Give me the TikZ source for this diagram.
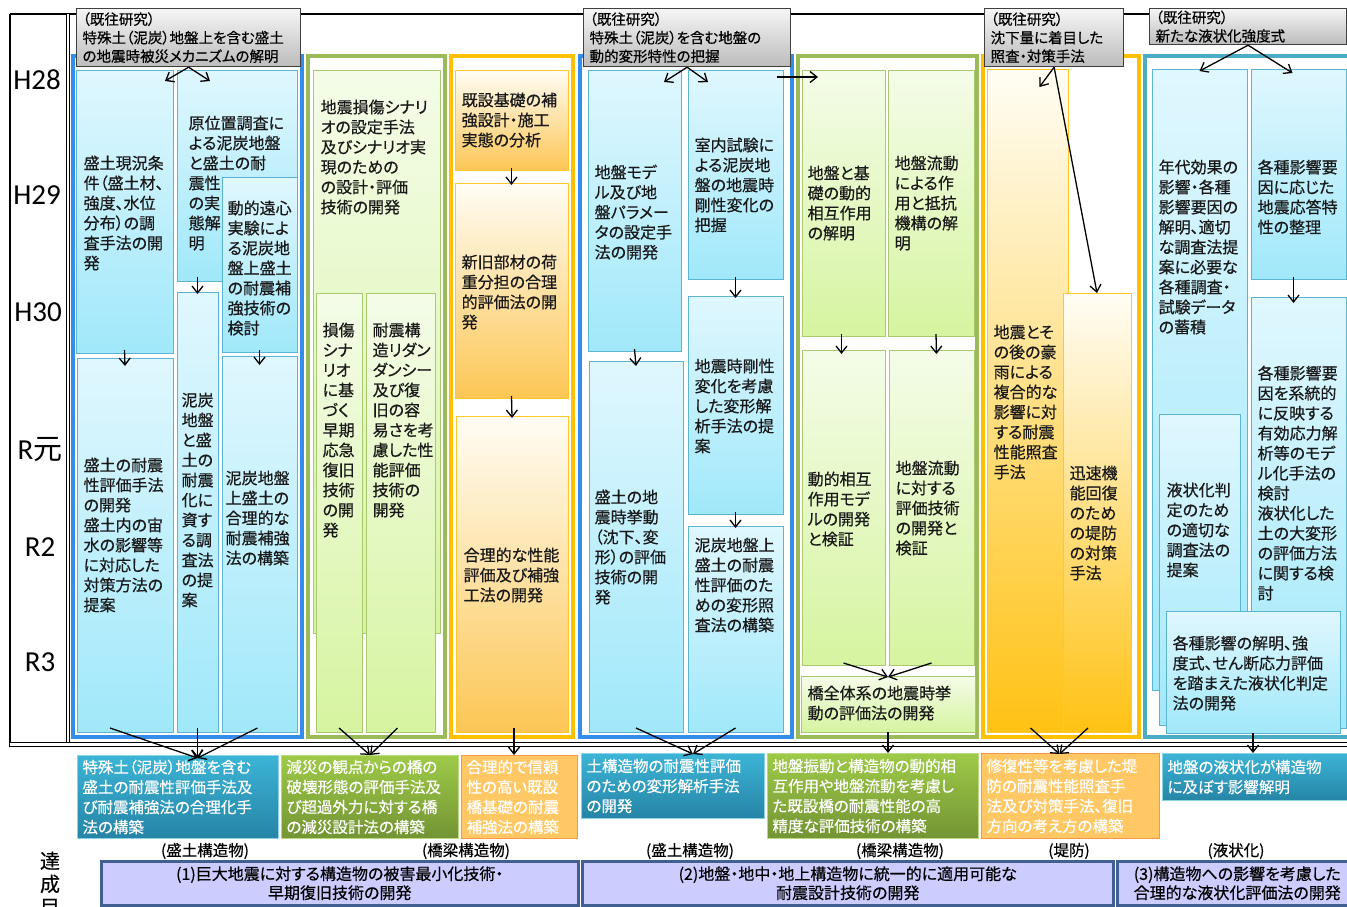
\documentclass[tikz,border=0pt]{standalone}
\usepackage{fontspec}
\setmainfont{Noto Sans CJK JP}[RawFeature=+palt,FakeBold=0.5]
\newfontfamily\yrfont{Carlito}
\usetikzlibrary{arrows.meta,calc,fit}

\definecolor{frBlue}{RGB}{52,140,235}
\definecolor{frGreen}{RGB}{155,187,89}
\definecolor{frGold}{RGB}{255,192,0}
\definecolor{frTeal}{RGB}{75,172,198}
\definecolor{cyTop}{RGB}{224,247,254}
\definecolor{cyBot}{RGB}{160,232,250}
\definecolor{cyLine}{RGB}{90,180,210}
\definecolor{grTop}{RGB}{244,252,232}
\definecolor{grBot}{RGB}{214,244,160}
\definecolor{grLine}{RGB}{170,200,110}
\definecolor{orTop}{RGB}{255,253,245}
\definecolor{orBot}{RGB}{252,198,85}
\definecolor{orDeep}{RGB}{255,194,20}
\definecolor{orLine}{RGB}{255,200,40}
\definecolor{hdTop}{RGB}{245,245,245}
\definecolor{hdBot}{RGB}{188,188,188}
\definecolor{tlTop}{RGB}{60,180,214}
\definecolor{tlBot}{RGB}{38,132,166}
\definecolor{gnTop}{RGB}{158,202,72}
\definecolor{gnBot}{RGB}{115,148,52}
\definecolor{ogFill}{RGB}{255,200,100}
\definecolor{ogLine}{RGB}{247,150,70}
\definecolor{goalFill}{RGB}{204,204,255}
\definecolor{goalLine}{RGB}{65,95,145}

\tikzset{
  frame/.style={line width=3.5pt},
  box/.style={inner sep=0pt, outer sep=0pt, line width=1pt},
  cybox/.style={box, draw=cyLine, top color=cyTop, bottom color=cyBot},
  grbox/.style={box, draw=grLine, top color=grTop, bottom color=grBot},
  orbox/.style={box, draw=orLine, top color=orTop, bottom color=orBot},
  txt/.style={anchor=north west, align=left, inner sep=0pt, text=black!90,
    font=\fontsize{16}{20}\selectfont},
  hdr/.style={anchor=north west, draw=black!75, line width=1.2pt,
    top color=hdTop, bottom color=hdBot, inner xsep=6pt, inner ysep=0pt,
    align=left, font=\fontsize{14.5}{18.5}\selectfont},
  outbox/.style={anchor=north west, align=left, text=white, inner xsep=5pt,
    inner ysep=3pt, line width=1pt, font=\fontsize{15.5}{20}\selectfont},
  tlout/.style={outbox, draw=tlTop!60, top color=tlTop, bottom color=tlBot},
  gnout/.style={outbox, draw=gnTop!70, top color=gnTop, bottom color=gnBot},
  ogout/.style={outbox, draw=ogLine, fill=ogFill},
  goal/.style={anchor=north west, draw=goalLine, fill=goalFill, line width=2.5pt,
    align=center, font=\fontsize{16}{19}\selectfont},
  lbl/.style={inner sep=0pt, font=\fontsize{15.5}{18}\selectfont},
  yr/.style={inner sep=0pt, font=\yrfont\fontsize{29}{30}\selectfont},
}

\begin{document}
\begin{tikzpicture}[x=1pt,y=-1pt,>={Straight Barb[length=7pt,width=11pt]},line width=1.3pt]
\useasboundingbox[fill=white] (0,0) rectangle (1347,906);

% table lines
\draw[line width=1.5pt] (10,14) -- (1347,14);
\draw[line width=1.5pt] (10,14) -- (10,747);
\draw[double,double distance=1.5pt,line width=0.8pt] (68,14) -- (68,747);
\draw[double,double distance=3pt,line width=0.9pt] (10,744.5) -- (1347,744.5);

% years
\node[yr] (y28) at (37,80) {H28};
\node[yr] (y29) at (37,195) {H29};
\node[yr] (y30) at (38,312) {H30};
\node[yr] (y31) at (40,450) {R{\fontspec{Noto Sans CJK JP}\fontsize{29}{30}\selectfont 元}};
\node[yr] (y32) at (40,547) {R2};
\node[yr] (y33) at (40,662) {R3};

% group frames
\draw[frame,draw=frBlue] (73,56) rectangle (302,737);
\draw[frame,draw=frGreen] (308,56) rectangle (445,737);
\draw[frame,draw=frGold] (451,56) rectangle (573,737);
\draw[frame,draw=frBlue] (580,56) rectangle (792,737);
\draw[frame,draw=frGreen] (798,56) rectangle (977,737);
\draw[frame,draw=frGold] (983,56) rectangle (1139,737);
\draw[frame,draw=frTeal] (1145,56) rectangle (1355,737);

% embankment (peat)
\node[cybox, fit={(76,70) (173,353)}] (A1) {};
\node[cybox, fit={(177,70) (297,281)}] (A2) {};
\node[cybox, fit={(222,177) (297,352)}] (A3) {};
\node[cybox, fit={(77,358) (173,732)}] (A4) {};
\node[cybox, fit={(177,292) (218,732)}] (A5) {};
\node[cybox, fit={(222,356) (297,732)}] (A6) {};
\node[txt] (A1t) at (83,155) {盛土現況条\\件（盛土材、\\強度、水位\\分布）の調\\査手法の開\\発};
\node[txt] (A2t) at (188,115) {原位置調査に\\よる泥炭地盤\\と盛土の耐\\震性\\の実\\態解\\明};
\node[txt] (A3t) at (227,200) {動的遠心\\実験によ\\る泥炭地\\盤上盛土\\の耐震補\\強技術の\\検討};
\node[txt] (A4t) at (83,457) {盛土の耐震\\性評価手法\\の開発\\盛土内の宙\\水の影響等\\に対応した\\対策方法の\\提案};
\node[txt] (A5t) at (181,392) {泥炭\\地盤\\と盛\\土の\\耐震\\化に\\資す\\る調\\査法\\の提\\案};
\node[txt] (A6t) at (225,470) {泥炭地盤\\上盛土の\\合理的な\\耐震補強\\法の構築};

% bridges
\node[grbox, fit={(313,70) (440,633)}] (B1) {};
\node[grbox, fit={(316,293) (362,732)}] (B2) {};
\node[grbox, fit={(366,293) (435,732)}] (B3) {};
\node[txt] (B1t) at (320,99) {地震損傷シナリ\\オの設定手法\\及びシナリオ実\\現のための\\の設計・評価\\技術の開発};
\node[txt] (B2t) at (322,322) {損傷\\シナ\\リオ\\に基\\づく\\早期\\応急\\復旧\\技術\\の開\\発};
\node[txt] (B3t) at (372,322) {耐震構\\造リダン\\ダンシー\\及び復\\旧の容\\易さを考\\慮した性\\能評価\\技術の\\開発};

% foundations
\node[orbox, fit={(455,70) (568,170)}] (C1) {};
\node[orbox, fit={(455,183) (568,398)}] (C2) {};
\node[orbox, fit={(456,416) (568,732)}] (C3) {};
\node[txt] (C1t) at (461,92) {既設基礎の補\\強設計・施工\\実態の分析};
\node[txt] (C2t) at (461,254) {新旧部材の荷\\重分担の合理\\的評価法の開\\発};
\node[txt] (C3t) at (463,547) {合理的な性能\\評価及び補強\\工法の開発};

% earth structures
\node[cybox, fit={(588,70) (681,351)}] (D1) {};
\node[cybox, fit={(688,70) (783,279)}] (D2) {};
\node[cybox, fit={(688,296) (783,514)}] (D3) {};
\node[cybox, fit={(589,361) (683,732)}] (D4) {};
\node[cybox, fit={(688,526) (783,732)}] (D5) {};
\node[txt] (D1t) at (594,164) {地盤モデ\\ル及び地\\盤パラメー\\タの設定手\\法の開発};
\node[txt] (D2t) at (694,137) {室内試験に\\よる泥炭地\\盤の地震時\\剛性変化の\\把握};
\node[txt] (D3t) at (694,358) {地震時剛性\\変化を考慮\\した変形解\\析手法の提\\案};
\node[txt] (D4t) at (594,489) {盛土の地\\震時挙動\\（沈下、変\\形）の評価\\技術の開\\発};
\node[txt] (D5t) at (694,537) {泥炭地盤上\\盛土の耐震\\性評価のた\\めの変形照\\査法の構築};

% bridge and ground
\node[grbox, fit={(802,70) (885,336)}] (E1) {};
\node[grbox, fit={(888,70) (974,336)}] (E2) {};
\node[grbox, fit={(802,350) (885,665)}] (E3) {};
\node[grbox, fit={(889,350) (974,665)}] (E4) {};
\node[grbox, fit={(801,676) (975,732)}] (E5) {};
\node[txt] (E1t) at (807,165) {地盤と基\\礎の動的\\相互作用\\の解明};
\node[txt] (E2t) at (894,155) {地盤流動\\による作\\用と抵抗\\機構の解\\明};
\node[txt] (E3t) at (807,471) {動的相互\\作用モデ\\ルの開発\\と検証};
\node[txt] (E4t) at (895,460) {地盤流動\\に対する\\評価技術\\の開発と\\検証};
\node[txt] (E5t) at (807,685) {橋全体系の地震時挙\\動の評価法の開発};

% levees
\node[box, draw=orLine, top color=orTop, bottom color=orDeep, fit={(987,69) (1068,732)}] (F1) {};
\node[box, draw=orLine, top color=orTop, bottom color=orDeep, fit={(1063,293) (1131,732)}] (F2) {};
\node[txt] (F1t) at (993,324) {地震とそ\\の後の豪\\雨による\\複合的な\\影響に対\\する耐震\\性能照査\\手法};
\node[txt] (F2t) at (1069,465) {迅速機\\能回復\\のため\\の堤防\\の対策\\手法};

% liquefaction
\node[cybox, fit={(1152,69) (1247,690)}] (L1) {};
\node[cybox, fit={(1159,414) (1240,725)}] (L3) {};
\node[cybox, fit={(1251,69) (1346,279)}] (L2) {};
\node[cybox, fit={(1251,297) (1346,728)}] (L4) {};
\node[cybox, fit={(1166,611) (1340,733)}] (L5) {};
\node[txt] (L1t) at (1158,159) {年代効果の\\影響・各種\\影響要因の\\解明、適切\\な調査法提\\案に必要な\\各種調査・\\試験データ\\の蓄積};
\node[txt] (L2t) at (1257,159) {各種影響要\\因に応じた\\地震応答特\\性の整理};
\node[txt] (L4t) at (1257,365) {各種影響要\\因を系統的\\に反映する\\有効応力解\\析等のモデ\\ル化手法の\\検討\\液状化した\\土の大変形\\の評価方法\\に関する検\\討};
\node[txt] (L3t) at (1166,482) {液状化判\\定のため\\の適切な\\調査法の\\提案};
\node[txt] (L5t) at (1172,635) {各種影響の解明、強\\度式、せん断応力評価\\を踏まえた液状化判定\\法の開発};

% previous research
\node[hdr, minimum width=224pt, minimum height=58pt, text width=212pt] (hd1) at (76,8)
  {（既往研究）\\特殊土（泥炭）地盤上を含む盛土\\の地震時被災メカニズムの解明};
\node[hdr, minimum width=207pt, minimum height=58pt, text width=195pt] (hd2) at (583,8)
  {（既往研究）\\特殊土（泥炭）を含む地盤の\\動的変形特性の把握};
\node[hdr, minimum width=139pt, minimum height=58pt, text width=127pt] (hd3) at (984,8)
  {（既往研究）\\沈下量に着目した\\照査・対策手法};
\node[hdr, minimum width=197pt, minimum height=36pt, text width=185pt] (hd4) at (1149,8)
  {（既往研究）\\新たな液状化強度式};

% outcomes
\node[tlout, minimum width=201pt, minimum height=83pt, text width=191pt] (O1) at (77,755)
  {特殊土（泥炭）地盤を含む\\盛土の耐震性評価手法及\\び耐震補強法の合理化手\\法の構築};
\node[gnout, minimum width=177pt, minimum height=83pt, text width=167pt] (O2) at (281,755)
  {減災の観点からの橋の\\破壊形態の評価手法及\\び超過外力に対する橋\\の減災設計法の構築};
\node[ogout, minimum width=116pt, minimum height=83pt, text width=106pt] (O3) at (461,755)
  {合理的で信頼\\性の高い既設\\橋基礎の耐震\\補強法の構築};
\node[tlout, minimum width=183pt, minimum height=65pt, text width=173pt] (O4) at (581,753)
  {土構造物の耐震性評価\\のための変形解析手法\\の開発};
\node[gnout, minimum width=211pt, minimum height=85pt, text width=201pt] (O5) at (767,753)
  {地盤振動と構造物の動的相\\互作用や地盤流動を考慮し\\た既設橋の耐震性能の高\\精度な評価技術の構築};
\node[ogout, minimum width=178pt, minimum height=85pt, text width=168pt] (O6) at (981,753)
  {修復性等を考慮した堤\\防の耐震性能照査手\\法及び対策手法、復旧\\方向の考え方の構築};
\node[tlout, minimum width=190pt, minimum height=47pt, text width=180pt] (O7) at (1162,753)
  {地盤の液状化が構造物\\に及ぼす影響解明};

% targets
\node[lbl] (k1) at (205,851) {(盛土構造物)};
\node[lbl] (k2) at (466,851) {(橋梁構造物)};
\node[lbl] (k3) at (690,851) {(盛土構造物)};
\node[lbl] (k4) at (900,851) {(橋梁構造物)};
\node[lbl] (k5) at (1069,851) {(堤防)};
\node[lbl] (k6) at (1236,851) {(液状化)};
\node[anchor=north, align=center, inner sep=0pt, font=\fontsize{20}{23}\selectfont] (goalhd) at (50,851) {達\\成\\目};
\node[goal, minimum width=477pt, minimum height=44pt] (G1) at (100,860)
  {(1)巨大地震に対する構造物の被害最小化技術・\\早期復旧技術の開発};
\node[goal, minimum width=531pt, minimum height=44pt] (G2) at (581,860)
  {(2)地盤・地中・地上構造物に統一的に適用可能な\\耐震設計技術の開発};
\node[goal, minimum width=240pt, minimum height=44pt] (G3) at (1116,860)
  {(3)構造物への影響を考慮した\\合理的な液状化評価法の開発};

% arrows from previous research
\draw[->] (hd1.south) -- ($(A1.north east)+(-8,11)$);
\draw[->] (hd1.south) -- ($(A2.north west)+(33,11)$);
\draw[->] (hd2.south) -- ($(D1.north east)+(-17,12)$);
\draw[->] (hd2.south) -- ($(D2.north west)+(20,12)$);
\draw[->] (hd3.south) -- ($(F1.north)+(12,18)$);
\draw[->] (hd3.south) -- (F2.north);
\draw[->] (hd4.south) -- ($(L1.north)+(0,2)$);
\draw[->] (hd4.south) -- ($(L2.north)+(-6,4)$);
\draw[->] ($(D2.north east)+(-6,7)$) -- ($(E1.north west)+(16,7)$);

% arrows inside groups
\draw[->] ($(A1.south)+(0,-3)$) -- ($(A4.north)+(0,8)$);
\draw[->] ($(A2.south -| A5.north)+(0,-4)$) -- ($(A5.north)+(0,2)$);
\draw[->] ($(A3.south)+(0,-2)$) -- ($(A6.north)+(0,9)$);
\draw[->] ($(C1.south)+(0,-2)$) -- ($(C2.north)+(0,2)$);
\draw[->] ($(C2.south)+(0,-2)$) -- ($(C3.north)+(0,2)$);
\draw[->] ($(D1.south)+(0,-2)$) -- ($(D4.north)+(0,5)$);
\draw[->] ($(D2.south)+(0,-2)$) -- ($(D3.north)+(0,2)$);
\draw[->] ($(D3.south)+(0,-2)$) -- ($(D5.north)+(0,2)$);
\draw[->] ($(E1.south)+(-2,-2)$) -- ($(E3.north)+(-2,4)$);
\draw[->] ($(E2.south)+(5,-2)$) -- ($(E4.north)+(5,4)$);
\draw[->] ($(E3.south)+(0,-2)$) -- ($(E5.north)+(0,1)$);
\draw[->] ($(E4.south)+(0,-2)$) -- ($(E5.north)+(0,1)$);
\draw[->] ($(L2.south)+(-5,-2)$) -- ($(L4.north)+(-5,6)$);

% arrows to outcomes
\coordinate (in1) at ($(A5.south |- O1.north)+(0,3)$);
\draw[->] ($(A4.south)+(-15,-4)$) -- (in1);
\draw[->] ($(A5.south)+(0,-4)$) -- (in1);
\draw[->] ($(A6.south)+(-2,-4)$) -- (in1);
\draw[->] ($(B2.south)+(0,-4)$) -- (O2.north);
\draw[->] ($(B3.south)+(-3,-4)$) -- (O2.north);
\draw[->] ($(C3.south)+(2,-4)$) -- ($(C3.south |- O3.north)+(2,0)$);
\draw[->] ($(D4.south)+(0,-4)$) -- ($(O4.north)+(20,1)$);
\draw[->] ($(D5.south)+(0,-4)$) -- ($(O4.north)+(20,1)$);
\draw[->] (E5.south) -- (E5.south |- O5.north);
\draw[->] ($(F1.south)+(3,-4)$) -- ($(O6.north)+(-11,1)$);
\draw[->] ($(F2.south)+(-9,-4)$) -- ($(O6.north)+(-11,1)$);
\draw[->] (L5.south) -- (L5.south |- O7.north);

\end{tikzpicture}
\end{document}
